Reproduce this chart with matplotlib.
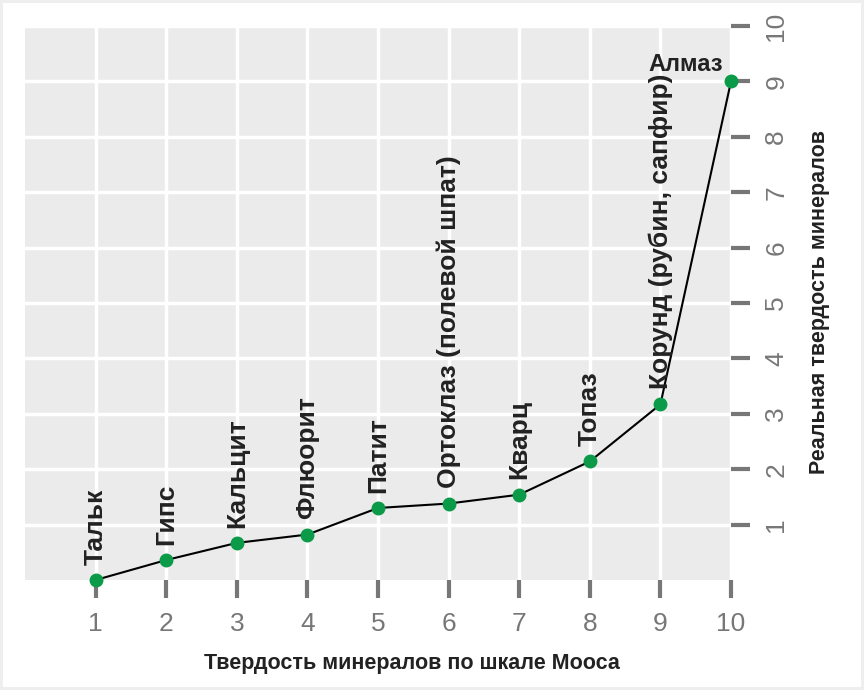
import matplotlib
matplotlib.use("Agg")
import matplotlib.pyplot as plt

plt.rcParams['font.family'] = ['Liberation Sans', 'DejaVu Sans']

mohs = [1, 2, 3, 4, 5, 6, 7, 8, 9, 10]
real = [0.0, 0.36, 0.67, 0.82, 1.30, 1.38, 1.54, 2.14, 3.17, 9.0]
names = ["Тальк", "Гипс", "Кальцит", "Флюорит", "Патит",
         "Ортоклаз (полевой шпат)", "Кварц", "Топаз",
         "Корунд (рубин, сапфир)", "Алмаз"]
xticks = [1, 2, 3, 4, 5, 6, 7, 8, 9, 10]
yticks = [1, 2, 3, 4, 5, 6, 7, 8, 9, 10]
xlabel = "Твердость минералов по шкале Мооса"
ylabel = "Реальная твердость минералов"

W, H = 864, 690
fig = plt.figure(figsize=(W / 100, H / 100), dpi=100)
fig.patch.set_facecolor("white")
fig.patch.set_edgecolor("#eeeeee")
fig.patch.set_linewidth(3)

ax = fig.add_axes([25 / W, (H - 580) / H, (731 - 25) / W, (580 - 26) / H])
ax.set_facecolor("#ebebeb")
ax.set_xlim(0, 10)
ax.set_ylim(0, 10)
for s in ax.spines.values():
    s.set_visible(False)

ax.set_xticks(xticks)
ax.set_yticks(yticks)
ax.grid(True, color="white", linewidth=2.5)
ax.set_axisbelow(True)

ax.yaxis.tick_right()
ax.tick_params(axis="x", length=13, width=3, color="#777777", labelcolor="#777777",
               labelsize=19, pad=10)
ax.tick_params(axis="y", length=14, width=3, color="#777777", labelcolor="#777777",
               labelsize=19, pad=10, labelrotation=90)
for lab in ax.get_yticklabels():
    lab.set_va("center")

ax.plot(mohs, real, color="black", linewidth=1.5, zorder=3, clip_on=False)
ax.plot(mohs, real, linestyle="none", marker="o", markersize=9,
        color="#0a9a48", zorder=4, clip_on=False)

for i, (x, y, n) in enumerate(zip(mohs, real, names)):
    if i == len(names) - 1:
        ax.annotate(n, (x, y), xytext=(-6, 4), textcoords="offset points",
                    ha="right", va="bottom", fontsize=17, fontweight="bold",
                    color="#222222")
    else:
        ax.annotate(n, (x, y), xytext=(0, 11), textcoords="offset points",
                    ha="center", va="bottom", rotation=90, fontsize=19,
                    fontweight="bold", color="#222222")

fig.text(412 / W, 1 - 663 / H, xlabel, ha="center", va="center",
         fontsize=15.5, fontweight="bold", color="#222222")
fig.text(820 / W, 1 - 302 / H, ylabel, ha="center", va="center", rotation=90,
         fontsize=15.5, fontweight="bold", color="#222222")

fig.savefig("out.png", dpi=100, facecolor=fig.get_facecolor(),
            edgecolor=fig.get_edgecolor())
